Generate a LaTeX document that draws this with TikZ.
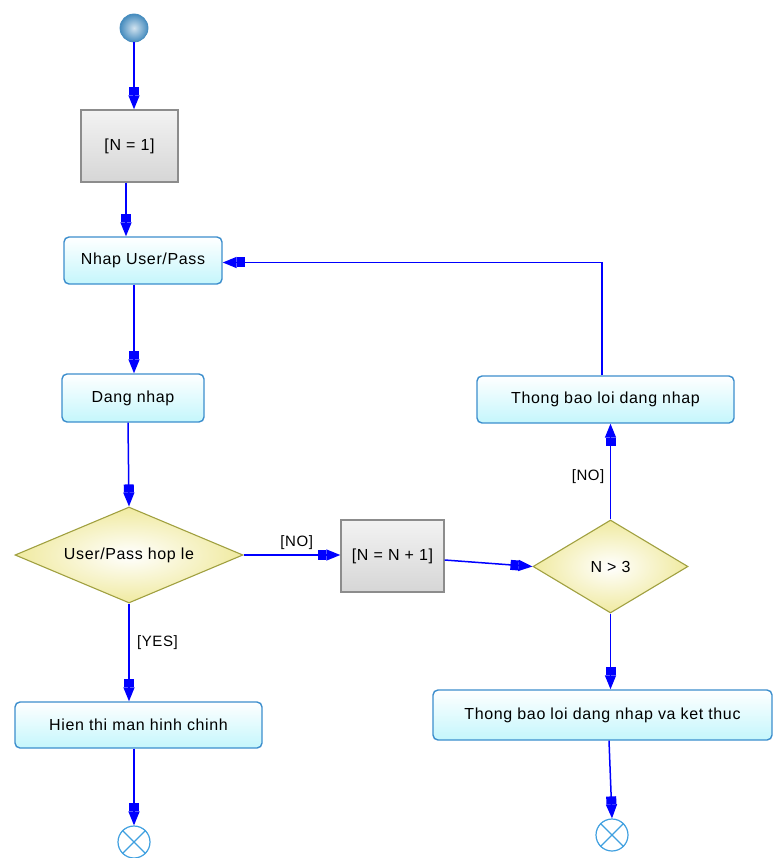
\documentclass[tikz,border=0pt]{standalone}
\usepackage{fontspec}
\setmainfont[LetterSpace=4]{Liberation Sans}
\usetikzlibrary{shapes.geometric,arrows.meta}
\definecolor{flowblue}{RGB}{0,0,255}
\definecolor{actborder}{RGB}{60,142,205}
\definecolor{actfill}{RGB}{196,246,252}
\definecolor{graybd}{RGB}{140,140,140}
\definecolor{grayfill}{RGB}{214,214,214}
\definecolor{decfill}{RGB}{240,234,160}
\definecolor{decbd}{RGB}{160,160,64}
\definecolor{endbd}{RGB}{64,160,224}
\definecolor{ballcol}{RGB}{70,140,190}
\tikzset{
  act/.style={draw=actborder, line width=1.4pt, rounded corners=5pt, top color=white, bottom color=actfill, inner sep=0pt},
  grbox/.style={draw=graybd, line width=1.4pt, top color=white!95!black, bottom color=grayfill, inner sep=0pt},
  dec/.style={diamond, draw=decbd, line width=1.1pt, inner color=white, outer color=decfill, inner sep=0pt},
  flow/.style={draw=flowblue, line width=1.5pt, -{Rectangle[length=8pt,width=10pt]Triangle[length=14pt,width=11pt]}},
  lbl/.style={font=\fontsize{15}{18}\selectfont},
  endnode/.style={circle, draw=endbd, line width=1.2pt, fill=white, minimum size=32pt, inner sep=0pt}
}
\begin{document}
\begin{tikzpicture}[x=1pt,y=-1pt, font=\fontsize{16}{19}\selectfont]
\useasboundingbox (0,0) rectangle (774,858);
% nodes
\node[circle, inner color=ballcol!25, outer color=ballcol, draw=ballcol, line width=0.8pt, minimum size=28pt, inner sep=0pt] (start) at (134,28) {};
\node[grbox, minimum width=97pt, minimum height=72pt] (n1) at (129.5,146) {[N = 1]};
\node[act, minimum width=158pt, minimum height=47pt] (nhap) at (143,260.5) {Nhap User/Pass};
\node[act, minimum width=142pt, minimum height=48pt] (dang) at (133,398) {Dang nhap};
\node[dec, shape aspect=2.4, minimum width=228pt, minimum height=96pt] (d1) at (129,555) {User/Pass hop le};
\node[grbox, minimum width=103pt, minimum height=72pt] (nn) at (392.5,556) {[N = N + 1]};
\node[dec, shape aspect=1.67, minimum width=155pt, minimum height=93pt] (d2) at (610.5,566.5) {N > 3};
\node[act, minimum width=257pt, minimum height=47pt] (tb) at (605.5,399.5) {Thong bao loi dang nhap};
\node[act, minimum width=339pt, minimum height=50pt] (tbk) at (602.5,715) {Thong bao loi dang nhap va ket thuc};
\node[act, minimum width=247pt, minimum height=46pt] (hien) at (138.5,725) {Hien thi man hinh chinh};
\node[endnode] (end1) at (134,842) {};
\node[endnode] (end2) at (612,835) {};
\draw[endbd, line width=1.2pt] (end1.north west) -- (end1.south east) (end1.north east) -- (end1.south west);
\draw[endbd, line width=1.2pt] (end2.north west) -- (end2.south east) (end2.north east) -- (end2.south west);
% connectors
\draw[flow] (start) -- (start |- n1.north);
\draw[flow] ([xshift=-3.5pt]n1.south) -- ([xshift=-3.5pt]n1.south |- nhap.north);
\draw[flow] ([xshift=-9pt]nhap.south) -- ([xshift=-9pt]nhap.south |- dang.north);
\draw[flow] ([xshift=-5pt]dang.south) -- (d1.north);
\draw[flow] (d1.east) -- (d1.east -| nn.west) node[lbl, pos=0.55, above=1pt] {[NO]};
\draw[flow] ([yshift=-4pt]nn.east) -- (d2.west);
\draw[flow] (d2.north) -- (d2.north |- tb.south) node[lbl, pos=0.45, left=2pt] {[NO]};
\draw[flow] ([xshift=-3.5pt]tb.north) |- ([yshift=-2pt]nhap.east);
\draw[flow] (d2.south) -- (d2.south |- tbk.north);
\draw[flow] (d1.south) -- (d1.south |- hien.north) node[lbl, pos=0.4, right=4pt] {[YES]};
\draw[flow] ([xshift=-4.5pt]hien.south) -- ([xshift=-4.5pt]hien.south |- end1.north);
\draw[flow] ([xshift=-2pt]tbk.south |- tbk.south) ++(8.5,0) -- (end2.north);
\end{tikzpicture}
\end{document}
